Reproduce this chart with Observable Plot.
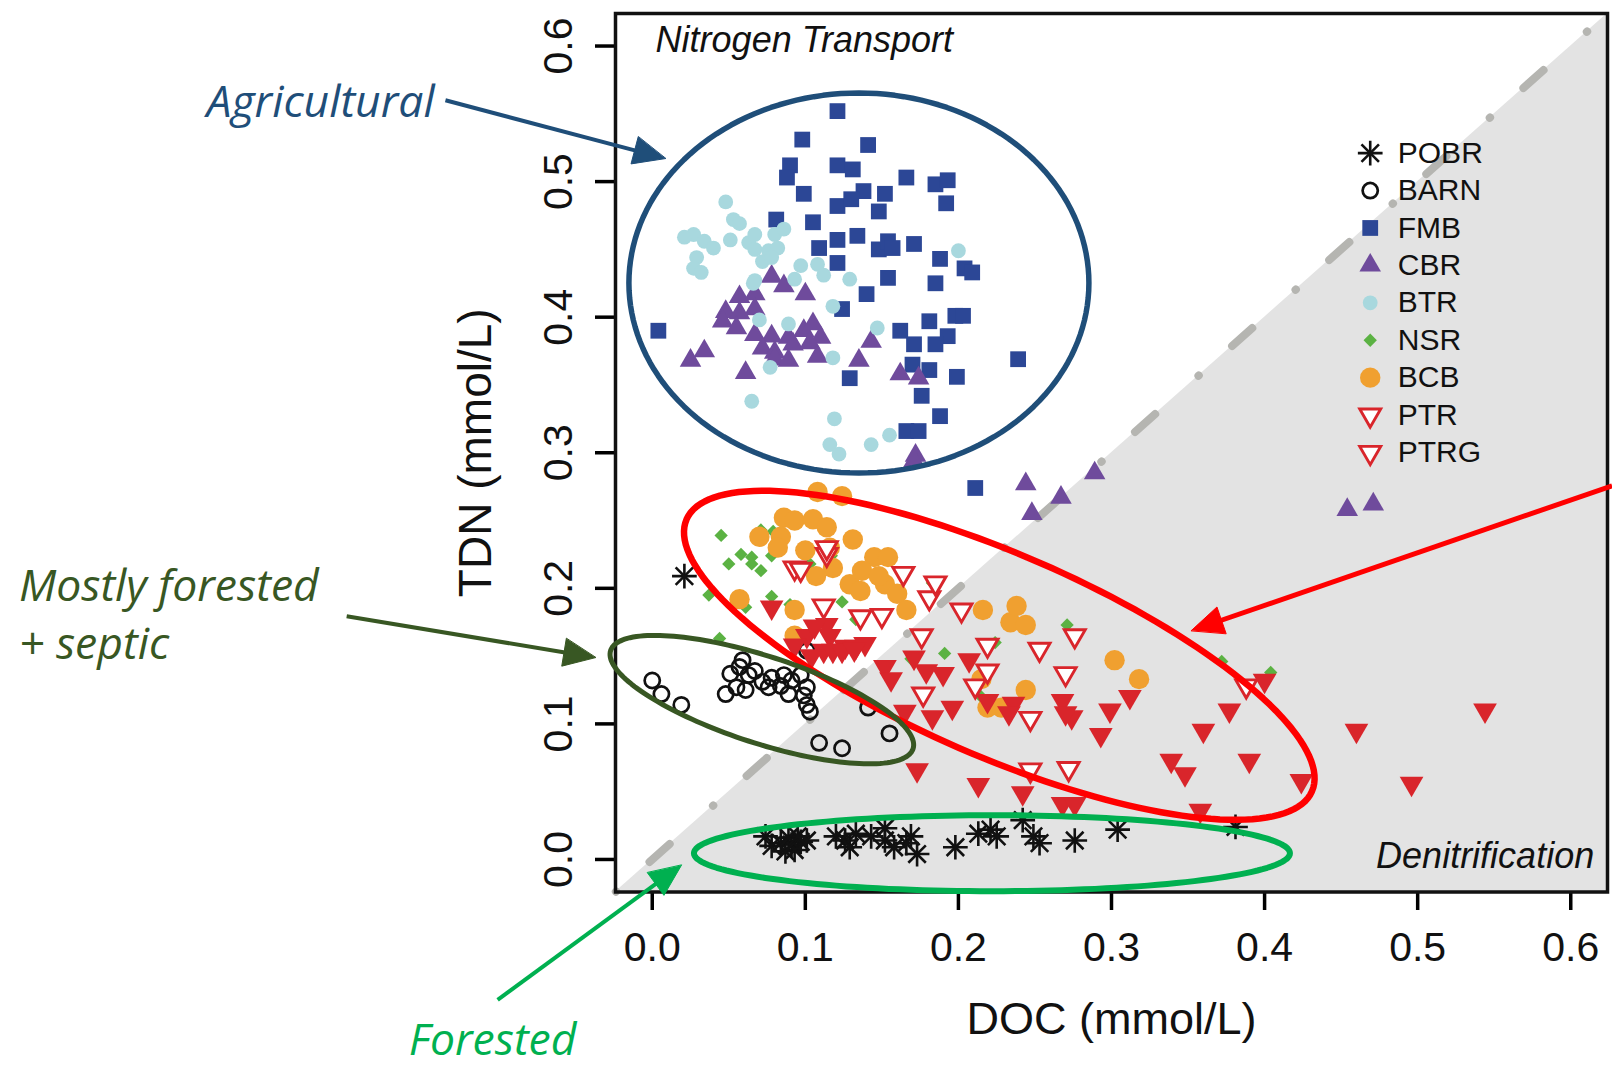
<!DOCTYPE html>
<html><head><meta charset="utf-8">
<script src="https://cdn.jsdelivr.net/npm/d3@7"></script>
<script src="https://cdn.jsdelivr.net/npm/@observablehq/plot@0.6"></script>
<style>html,body{margin:0;padding:0;background:#fff;} svg{display:block}</style>
</head><body><div id="chart"></div>
<script>
// ---------- data: [DOC, TDN] in mmol/L ----------
const seriesNames = ["POBR","BARN","FMB","CBR","BTR","NSR","BCB","PTR","PTRG"];

const POBR = [[.021,.209],[.074,.017],[.084,.012],[.091,.011],[.097,.013],[.093,.007],[.101,.014],[.089,.016],[.120,.017],[.126,.014],[.129,.009],[.133,.019],[.143,.017],[.152,.023],[.152,.014],[.158,.009],[.169,.017],[.166,.012],[.173,.004],[.198,.009],[.213,.019],[.221,.022],[.225,.017],[.242,.029],[.249,.017],[.253,.012],[.276,.014],[.304,.022],[.381,.024],[.078,.010],[.087,.006],[.095,.017]];

const BARN = [[.000,.132],[.006,.122],[.019,.114],[.057,.142],[.051,.137],[.063,.136],[.055,.127],[.048,.122],[.061,.125],[.072,.131],[.078,.134],[.084,.128],[.086,.136],[.091,.132],[.097,.136],[.101,.127],[.089,.122],[.099,.121],[.101,.114],[.103,.109],[.141,.112],[.155,.093],[.109,.086],[.124,.082],[.101,.154],[.067,.139],[.059,.147],[.076,.127]];

const FMB = [[.121,.552],[.098,.531],[.141,.527],[.090,.512],[.088,.503],[.121,.512],[.131,.509],[.166,.503],[.185,.498],[.193,.501],[.099,.491],[.138,.493],[.152,.491],[.121,.482],[.130,.487],[.148,.478],[.192,.484],[.081,.472],[.105,.470],[.121,.457],[.134,.460],[.109,.451],[.148,.450],[.154,.456],[.157,.451],[.171,.454],[.188,.443],[.204,.436],[.209,.433],[.121,.440],[.154,.429],[.185,.425],[.140,.417],[.124,.406],[.198,.401],[.203,.401],[.004,.390],[.162,.390],[.181,.397],[.193,.386],[.185,.380],[.171,.380],[.239,.369],[.170,.365],[.181,.361],[.129,.355],[.199,.356],[.176,.342],[.188,.327],[.166,.316],[.174,.316],[.211,.274]];

const CBR = [[.078,.430],[.086,.423],[.100,.417],[.057,.415],[.067,.417],[.048,.404],[.057,.403],[.067,.406],[.046,.397],[.055,.392],[.067,.387],[.078,.386],[.089,.385],[.099,.390],[.105,.395],[.110,.385],[.092,.380],[.103,.381],[.072,.377],[.080,.374],[.034,.375],[.025,.368],[.061,.359],[.080,.369],[.089,.368],[.108,.371],[.135,.368],[.143,.382],[.162,.358],[.174,.355],[.172,.298],[.171,.294],[.244,.277],[.289,.285],[.267,.267],[.248,.255],[.454,.258],[.471,.262]];

const BTR = [[.048,.485],[.053,.472],[.057,.469],[.027,.461],[.034,.456],[.040,.451],[.051,.457],[.063,.455],[.067,.461],[.080,.461],[.086,.465],[.067,.450],[.076,.449],[.082,.451],[.029,.444],[.027,.436],[.032,.433],[.072,.441],[.078,.444],[.097,.438],[.108,.439],[.112,.431],[.129,.428],[.200,.449],[.067,.427],[.093,.428],[.066,.425],[.118,.408],[.089,.395],[.070,.398],[.147,.392],[.118,.370],[.077,.363],[.065,.338],[.119,.325],[.116,.306],[.122,.299],[.143,.306],[.155,.313],[.021,.459]];

const NSR = [[.045,.239],[.071,.243],[.079,.242],[.058,.225],[.065,.223],[.065,.218],[.050,.218],[.071,.213],[.078,.224],[.093,.215],[.037,.195],[.078,.194],[.061,.186],[.090,.188],[.103,.218],[.117,.224],[.124,.190],[.133,.177],[.044,.163],[.183,.204],[.191,.152],[.169,.148],[.224,.160],[.271,.173],[.372,.146],[.404,.138],[.214,.121]];

const BCB = [[.108,.271],[.124,.268],[.086,.252],[.093,.250],[.105,.251],[.114,.245],[.084,.238],[.082,.230],[.100,.228],[.131,.236],[.145,.223],[.154,.223],[.070,.238],[.116,.230],[.057,.192],[.093,.184],[.093,.165],[.216,.184],[.234,.175],[.244,.173],[.238,.187],[.302,.147],[.318,.133],[.215,.133],[.244,.125],[.219,.112],[.228,.112],[.129,.203],[.137,.213],[.152,.203],[.160,.196],[.118,.215],[.166,.184],[.148,.209],[.136,.198],[.107,.209]];

const PTR = [[.112,.187],[.164,.211],[.181,.193],[.202,.184],[.176,.165],[.219,.158],[.253,.155],[.276,.165],[.270,.137],[.247,.104],[.388,.128],[.272,.067],[.247,.066],[.211,.128],[.219,.139],[.150,.180],[.093,.215],[.177,.122],[.114,.225],[.097,.214],[.136,.179],[.185,.204],[.114,.230]];

const PTRG = [[.078,.186],[.114,.173],[.101,.165],[.116,.165],[.126,.157],[.133,.157],[.139,.159],[.152,.142],[.171,.149],[.179,.139],[.190,.137],[.207,.147],[.196,.112],[.183,.105],[.236,.115],[.268,.117],[.274,.105],[.299,.110],[.293,.092],[.312,.120],[.360,.095],[.377,.110],[.400,.132],[.390,.073],[.339,.073],[.348,.063],[.460,.095],[.544,.110],[.496,.056],[.424,.058],[.173,.066],[.213,.055],[.242,.049],[.268,.041],[.276,.041],[.358,.036],[.219,.117],[.270,.108],[.106,.172],[.112,.154],[.118,.154],[.124,.154],[.132,.155],[.093,.158],[.104,.150],[.156,.133],[.165,.109],[.233,.108]];

const xTicks = [0, 0.1, 0.2, 0.3, 0.4, 0.5, 0.6];
const yTicks = [0, 0.1, 0.2, 0.3, 0.4, 0.5, 0.6];
const xTitle = "DOC (mmol/L)";
const yTitle = "TDN (mmol/L)";
const cornerLabels = ["Nitrogen Transport", "Denitrification"];

// ---------- layout ----------
const W = 1612, H = 1066;
const mL = 615, mR = 5, mT = 13, mB = 174.5;
const dom = [-0.024, 0.624];
const kx = (W - mL - mR) / (dom[1] - dom[0]);   // px per data unit
const ky = (H - mT - mB) / (dom[1] - dom[0]);

const seriesData = {POBR, BARN, FMB, CBR, BTR, NSR, BCB, PTR, PTRG};
const RED = "#d9252b";
const styles = {
  POBR: [{symbol: "plus", stroke: "#111", strokeWidth: 2.6, r: 8}, {symbol: "times", stroke: "#111", strokeWidth: 2.6, r: 8}],
  BARN: [{symbol: "circle", stroke: "#111", fill: "none", strokeWidth: 2.7, r: 7.6}],
  FMB:  [{symbol: "square", fill: "#2c4796", stroke: "none", r: 8.9}],
  CBR:  [{symbol: "triangle", fill: "#6f4b9c", stroke: "none", r: 8}],
  BTR:  [{symbol: "circle", fill: "#a8d8de", stroke: "none", r: 7.4}],
  NSR:  [{symbol: "diamond2", fill: "#5bb243", stroke: "none", r: 6}],
  BCB:  [{symbol: "circle", fill: "#f0a030", stroke: "none", r: 10.2}],
  PTR:  [{symbol: "triangle", fill: "white", stroke: RED, strokeWidth: 2.9, r: 7.8, rotate: 180}],
  PTRG: [{symbol: "triangle", fill: RED, stroke: "none", r: 8.8, rotate: 180}]
};
// the legend shows PTRG with the open symbol, as in the original
const legendStyles = {...styles, PTRG: styles.PTR};

// legend placement (data units)
const legSymX = 0.469, legTextX = 0.487, legTop = 0.521, legStep = 0.0276;

// annotations (data-unit anchors, pixel sizes)
const ellipses = [
  {cx: .1350, cy: .4252, rx: 230, ry: 190, rot: 0,    color: "#1f4e79", w: 5.5},
  {cx: .2267, cy: .1506, rx: 341, ry: 101, rot: 23.5, color: "#ff0000", w: 6.5},
  {cx: .0716, cy: .1179, rx: 159, ry: 43.5, rot: 18,  color: "#385723", w: 5},
  {cx: .2219, cy: .0046, rx: 298, ry: 38, rot: 0,     color: "#00b050", w: 6}
];
const arrows = [
  {x1: -.1351, y1: .5600, x2: .0087, y2: .5170, color: "#1f4e79", w: 4},
  {x1: -.1996, y1: .1794, x2: -.0370, y2: .1489, color: "#385723", w: 4},
  {x1: -.1010, y1: -.1036, x2: .0191, y2: -.0042, color: "#00b050", w: 4},
  {x1: .6270, y1: .2756, x2: .3521, y2: .1688, color: "#ff0000", w: 5}
];
const notesRight = [
  {text: "Agricultural", x: -.1421, y: .5476, color: "#1f4e79"}
];
const notesLeft = [
  {text: "Mostly forested", x: -.4137, y: .1909, color: "#385723"},
  {text: "+ septic", x: -.4137, y: .1482, color: "#385723"},
  {text: "Forested", x: -.1591, y: -.1445, color: "#00b050"}
];

// ---------- geometry helpers ----------
function ellipsePts(e, id) {
  const a = e.rot * Math.PI / 180, pts = [];
  for (let i = 0; i < 160; i++) {
    const t = i / 160 * 2 * Math.PI;
    const px = e.rx * Math.cos(t), py = e.ry * Math.sin(t);
    const dx = px * Math.cos(a) - py * Math.sin(a);
    const dy = px * Math.sin(a) + py * Math.cos(a);
    pts.push({x: e.cx + dx / kx, y: e.cy - dy / ky, id, color: e.color, w: e.w});
  }
  return pts;
}
const headLen = 32, headHalf = 14;
function headPts(ar, id) {
  const dxp = (ar.x2 - ar.x1) * kx, dyp = -(ar.y2 - ar.y1) * ky;
  const L = Math.hypot(dxp, dyp), ux = dxp / L, uy = dyp / L;
  const bx = -ux * headLen, by = -uy * headLen;
  const c = [[0, 0], [bx - uy * headHalf, by + ux * headHalf], [bx + uy * headHalf, by - ux * headHalf]];
  return c.map(([px, py]) => ({x: ar.x2 + px / kx, y: ar.y2 - py / ky, id, color: ar.color}));
}
function shaft(ar) {
  const dxp = (ar.x2 - ar.x1) * kx, dyp = -(ar.y2 - ar.y1) * ky;
  const L = Math.hypot(dxp, dyp), f = (L - headLen + 4) / L;
  return {...ar, xe: ar.x1 + (ar.x2 - ar.x1) * f, ye: ar.y1 + (ar.y2 - ar.y1) * f};
}

const ellData = ellipses.flatMap((e, i) => ellipsePts(e, i));
const headData = arrows.flatMap((a, i) => headPts(a, i));
const shaftData = arrows.map(shaft);

// ---------- marks ----------
const marks = [];
marks.push(Plot.areaY(dom, {x: d => d, y1: dom[0], y2: d => d, fill: "#e3e3e3"}));
marks.push(Plot.line([[dom[0], dom[0]], [dom[1], dom[1]]], {stroke: "#b5b5b1", strokeWidth: 8, strokeLinecap: "round", strokeDasharray: "27 57.75 0.5 44.45", strokeDashoffset: 84.3}));
for (const name of seriesNames) {
  for (const st of styles[name]) marks.push(Plot.dot(seriesData[name], {x: d => d[0], y: d => d[1], ...st}));
}
seriesNames.forEach((name, i) => {
  for (const st of legendStyles[name]) marks.push(Plot.dot([[legSymX, legTop - i * legStep]], {x: d => d[0], y: d => d[1], ...st}));
});
marks.push(Plot.text(seriesNames, {x: legTextX, y: (d, i) => legTop - i * legStep, text: d => d, textAnchor: "start", lineAnchor: "middle", fontSize: 30, fill: "#111"}));
marks.push(Plot.text([cornerLabels[0]], {x: .0022, y: .5958, textAnchor: "start", lineAnchor: "bottom", fontSize: 36, fontStyle: "italic", fill: "#111"}));
marks.push(Plot.text([cornerLabels[1]], {x: .6153, y: -.0066, textAnchor: "end", lineAnchor: "bottom", fontSize: 36, fontStyle: "italic", fill: "#111"}));
marks.push(Plot.axisX(xTicks, {anchor: "bottom", tickSize: 18.5, tickPadding: 21.7, fontSize: 41, tickFormat: d3.format(".1f"), strokeWidth: 3.5, label: null, fill: "#111"}));
marks.push(Plot.axisY(yTicks, {anchor: "left", tickSize: 20, tickPadding: 24, tickRotate: -90, fontSize: 41, tickFormat: d3.format(".1f"), strokeWidth: 3.5, label: null, fill: "#111"}));
marks.push(Plot.text([xTitle], {frameAnchor: "bottom", dy: 142, lineAnchor: "bottom", fontSize: 45, fill: "#111"}));
marks.push(Plot.text([yTitle], {frameAnchor: "left", dx: -125, rotate: -90, lineAnchor: "bottom", textAnchor: "middle", fontSize: 46, fill: "#111"}));
marks.push(Plot.frame({stroke: "#111", strokeWidth: 3.5}));
marks.push(Plot.line(ellData, {x: "x", y: "y", z: "id", stroke: "color", strokeWidth: "w", curve: "linear-closed"}));
marks.push(Plot.link(shaftData, {x1: "x1", y1: "y1", x2: "xe", y2: "ye", stroke: "color", strokeWidth: "w"}));
marks.push(Plot.line(headData, {x: "x", y: "y", z: "id", fill: "color", stroke: "color", strokeWidth: 1, curve: "linear-closed"}));
const noteFont = {lineAnchor: "bottom", fontSize: 44.5, fontStyle: "italic", fontFamily: "'Open Sans', sans-serif"};
marks.push(Plot.text(notesRight, {x: "x", y: "y", text: "text", fill: "color", textAnchor: "end", ...noteFont}));
marks.push(Plot.text(notesLeft, {x: "x", y: "y", text: "text", fill: "color", textAnchor: "start", ...noteFont}));

const chart = Plot.plot({
  width: W, height: H,
  marginLeft: mL, marginRight: mR, marginTop: mT, marginBottom: mB,
  x: {domain: dom, axis: null},
  y: {domain: dom, axis: null},
  stroke: {type: "identity"}, fill: {type: "identity"}, strokeWidth: {type: "identity"},
  style: {fontFamily: "'Liberation Sans', Arial, sans-serif", background: "white", overflow: "visible"},
  marks
});
document.getElementById("chart").appendChild(chart);
</script>
</body></html>
